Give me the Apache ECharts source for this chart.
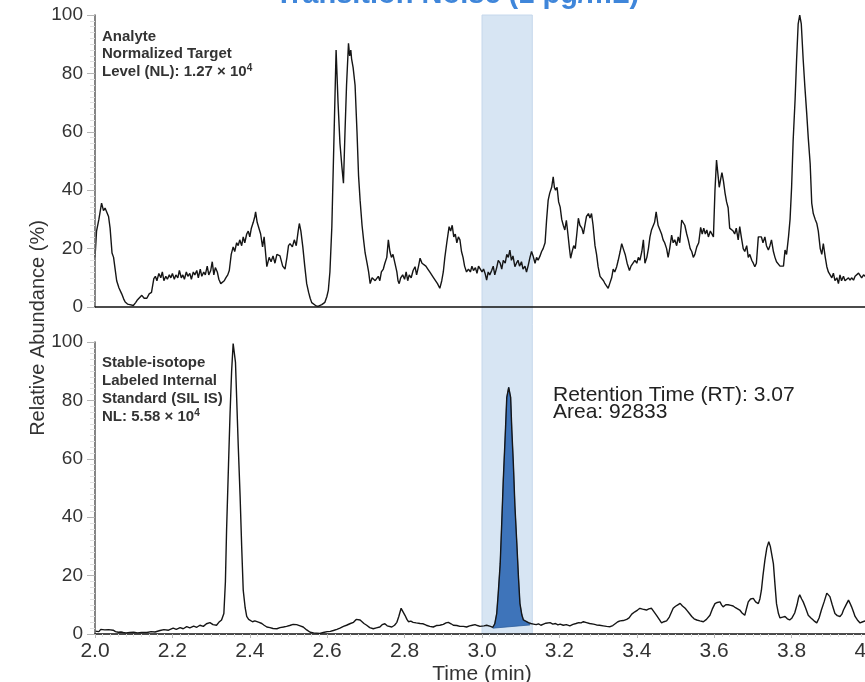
<!DOCTYPE html>
<html>
<head>
<meta charset="utf-8">
<script src="https://cdn.jsdelivr.net/npm/echarts@6/dist/echarts.min.js"></script>
<style>
  html, body { margin: 0; padding: 0; background: #ffffff; }
  #chart { width: 865px; height: 682px; }
</style>
</head>
<body>
<div id="chart"></div>
<script>
// Analyte (target) transition trace: [time (min), relative abundance (%)]
const analyteTrace = [
  [2.000,17],[2.004,26],[2.010,30],[2.017,35.6],[2.022,33],[2.026,33.9],[2.030,34.5],[2.035,31],
  [2.039,27],[2.044,18.5],[2.048,17],[2.052,13],[2.056,9],[2.062,6.5],[2.069,4.5],[2.074,2.8],
  [2.078,1.7],[2.084,1],[2.090,0.8],[2.095,0.3],[2.099,0.5],[2.105,1.5],[2.110,2.5],[2.115,2],
  [2.121,4],[2.127,3],[2.134,3],[2.140,4.5],[2.146,5],[2.152,9.7],[2.156,10.5],[2.160,9],
  [2.165,11.5],[2.170,10],[2.174,12],[2.178,9],[2.183,10.5],[2.187,9.5],[2.192,11],[2.196,10],
  [2.200,11.5],[2.205,9.5],[2.209,11],[2.214,10],[2.218,12.5],[2.223,10],[2.227,11],[2.231,9.5],
  [2.236,12],[2.240,10.5],[2.245,11.5],[2.249,9.5],[2.254,12],[2.258,11],[2.263,12.5],[2.267,10],
  [2.272,13],[2.276,10.5],[2.281,12],[2.285,11],[2.290,14],[2.294,11],[2.299,12.5],[2.303,15.5],
  [2.307,11],[2.311,13.5],[2.316,12],[2.320,9.5],[2.325,8],[2.329,7.5],[2.334,9],[2.338,10],
  [2.343,11],[2.347,12.5],[2.352,18],[2.357,20.6],[2.361,19],[2.366,22],[2.370,21],[2.374,23],
  [2.379,21],[2.383,24],[2.387,22],[2.392,25],[2.396,26],[2.400,24],[2.404,27],[2.409,29],
  [2.413,31],[2.415,32.6],[2.419,29],[2.423,29.5],[2.428,25],[2.433,20.6],[2.437,24],[2.444,13.8],
  [2.450,17],[2.455,15.5],[2.460,17.5],[2.465,15],[2.470,18],[2.478,17.5],[2.485,14],[2.491,13],
  [2.496,17],[2.500,21],[2.504,21.7],[2.510,20.6],[2.515,23],[2.520,21],[2.525,26],[2.528,28.6],
  [2.532,26],[2.537,20.6],[2.542,14],[2.547,8],[2.552,5],[2.556,3],[2.560,1.5],[2.564,1],
  [2.570,0.5],[2.576,0.2],[2.581,0.3],[2.586,0.8],[2.590,1.3],[2.594,1.6],[2.599,3.5],[2.603,5.8],
  [2.607,12],[2.612,27.5],[2.617,55],[2.623,88],[2.628,70],[2.633,56],[2.638,48],[2.642,42.4],
  [2.646,60],[2.650,76],[2.655,90.3],[2.658,86],[2.661,88],[2.663,85],[2.667,82],[2.672,76],
  [2.677,60],[2.681,45],[2.685,36.6],[2.690,28],[2.694,23],[2.698,18.5],[2.703,15],[2.707,12],
  [2.711,8],[2.716,10],[2.720,9.8],[2.724,9],[2.728,8.7],[2.732,10.5],[2.736,9],[2.740,12],
  [2.745,13],[2.749,15],[2.754,17],[2.758,23],[2.762,19],[2.766,17],[2.770,18],[2.775,15],
  [2.780,12],[2.783,9],[2.786,8],[2.790,10],[2.795,11],[2.800,9.5],[2.804,12],[2.808,9],
  [2.812,11],[2.817,10],[2.822,12.5],[2.827,13.8],[2.831,11],[2.836,14],[2.840,16.7],[2.845,15],
  [2.850,15.5],[2.855,14],[2.860,13],[2.865,12],[2.870,11.6],[2.875,10],[2.880,9.5],[2.885,8],
  [2.891,6.4],[2.896,9],[2.900,12],[2.904,17],[2.909,22],[2.915,27.5],[2.919,26],[2.923,28],
  [2.927,24],[2.931,25],[2.935,22],[2.939,24],[2.943,23],[2.947,19],[2.951,17],[2.955,14],
  [2.960,12],[2.965,13],[2.970,12],[2.974,14],[2.978,12.5],[2.983,13.5],[2.987,11.5],[2.991,14],
  [2.995,13.8],[3.000,12],[3.004,13],[3.008,11.5],[3.012,9.2],[3.016,12],[3.020,11],[3.025,12.5],
  [3.029,14],[3.033,11],[3.038,13.5],[3.042,16],[3.047,15],[3.051,13],[3.055,16],[3.060,15],
  [3.064,18],[3.068,17],[3.072,19.5],[3.076,16],[3.080,17.5],[3.085,13.8],[3.089,15],[3.093,16],
  [3.097,14],[3.102,15.5],[3.106,13],[3.111,14],[3.115,12],[3.119,14],[3.124,17],[3.128,19],
  [3.132,17.5],[3.137,15],[3.141,17],[3.145,16],[3.150,17.5],[3.154,19],[3.158,20],[3.163,22],
  [3.167,30],[3.171,36.6],[3.175,39],[3.180,41],[3.184,44.6],[3.187,41],[3.190,40],[3.194,41],
  [3.198,36],[3.202,34.2],[3.206,30],[3.210,28],[3.214,26.4],[3.218,29.7],[3.222,25],[3.226,20],
  [3.229,16.7],[3.233,19],[3.237,21],[3.241,20],[3.245,25],[3.249,30.4],[3.253,28],[3.258,27],
  [3.262,25],[3.266,28],[3.270,31],[3.275,32],[3.279,30.5],[3.283,32],[3.287,28],[3.292,21],
  [3.296,18],[3.300,13.8],[3.305,10.5],[3.310,10.5],[3.314,9],[3.317,8.2],[3.322,8],[3.326,6.4],
  [3.330,8],[3.335,10],[3.339,13],[3.343,12],[3.348,13.8],[3.352,16],[3.357,19],[3.361,21.7],
  [3.365,20],[3.370,18],[3.375,15],[3.381,12.5],[3.385,14],[3.390,13.5],[3.395,16],[3.400,15],
  [3.404,17],[3.408,16],[3.413,19],[3.417,23],[3.421,15],[3.426,17],[3.430,20],[3.434,24],
  [3.438,26.4],[3.442,26],[3.446,29],[3.450,32.6],[3.455,28],[3.459,27.7],[3.464,25],[3.468,23],
  [3.472,22],[3.477,20],[3.481,17],[3.485,20],[3.490,24.6],[3.494,22],[3.498,23],[3.503,21],
  [3.507,24],[3.511,22],[3.516,29.8],[3.520,30.4],[3.524,28],[3.529,25],[3.533,23],[3.538,20],
  [3.542,19],[3.546,17],[3.550,18],[3.555,20.6],[3.560,22],[3.565,27.3],[3.569,25],[3.573,27],
  [3.577,25],[3.581,26.4],[3.585,24],[3.590,26],[3.594,25],[3.598,24],[3.602,40],[3.606,50.3],
  [3.610,45],[3.613,41],[3.617,44],[3.620,46],[3.624,43],[3.628,39],[3.632,36],[3.636,34],
  [3.640,27],[3.645,26.4],[3.649,26],[3.653,25],[3.657,27],[3.662,23],[3.666,27.5],[3.670,24],
  [3.675,20],[3.679,19],[3.684,21],[3.688,17],[3.692,18],[3.697,16],[3.701,15],[3.705,13.8],
  [3.709,15],[3.714,24],[3.718,23.5],[3.722,24],[3.726,22],[3.731,24],[3.735,21],[3.740,19.5],
  [3.744,21],[3.748,23],[3.753,19],[3.757,17],[3.761,15.5],[3.766,15],[3.770,14],[3.775,13.8],
  [3.779,14],[3.783,19.5],[3.787,18],[3.792,24],[3.796,30],[3.800,41],[3.804,57],[3.809,71],
  [3.813,85],[3.817,97],[3.821,100],[3.825,97],[3.830,84.6],[3.834,76],[3.839,66.4],[3.843,58],
  [3.848,49],[3.852,35.6],[3.856,32],[3.861,30],[3.865,28.7],[3.869,26],[3.874,20],[3.878,18],
  [3.882,21.7],[3.887,17],[3.891,13.8],[3.895,12],[3.899,12.5],[3.904,10],[3.908,11.6],[3.912,9],
  [3.917,10],[3.921,8],[3.925,11],[3.929,9],[3.934,10.5],[3.938,9],[3.942,9.5],[3.947,10],
  [3.951,9.2],[3.955,10],[3.960,9.2],[3.964,10.5],[3.968,10],[3.973,11.6],[3.977,12],[3.981,10],
  [3.986,11],[3.990,10.5],[3.995,10],[4.000,10.5]
];

// Stable-isotope labeled internal standard trace: [time (min), relative abundance (%)]
const sisTrace = [
  [2.000,1],[2.005,1.5],[2.010,0.8],[2.015,1.6],[2.020,1],[2.025,1.4],[2.030,0.9],[2.035,1.5],
  [2.040,1.2],[2.047,1.3],[2.053,0.8],[2.060,0.6],[2.067,0.7],[2.073,0.5],[2.080,0.4],[2.090,0.5],
  [2.100,0.6],[2.110,0.4],[2.120,0.5],[2.134,0.5],[2.145,0.8],[2.155,0.7],[2.168,1.2],[2.178,1.5],
  [2.190,1.3],[2.202,2],[2.210,1.6],[2.220,2.2],[2.228,1.8],[2.237,2.5],[2.245,2.1],[2.255,2.7],
  [2.263,2.3],[2.271,3],[2.280,2.6],[2.288,3.5],[2.297,3.9],[2.305,3.2],[2.314,3],[2.320,4],
  [2.327,4.8],[2.333,7],[2.337,18],[2.340,35.6],[2.345,58],[2.349,75.6],[2.353,90],[2.357,99.5],
  [2.360,100],[2.363,93],[2.366,81],[2.370,65],[2.375,47],[2.379,30],[2.383,15],[2.388,9],
  [2.392,6],[2.397,5],[2.401,4.6],[2.407,4.2],[2.413,4.5],[2.418,4.8],[2.424,4],[2.431,3.6],
  [2.437,3],[2.444,2.4],[2.452,2.2],[2.460,1.9],[2.470,1.8],[2.478,2.2],[2.487,2.4],[2.495,2.6],
  [2.503,2.9],[2.512,3.3],[2.521,3.2],[2.530,2.8],[2.538,2.4],[2.547,1.4],[2.556,0.6],[2.565,0.4],
  [2.573,0.3],[2.581,0.2],[2.590,0.5],[2.600,0.8],[2.608,0.9],[2.616,1.2],[2.625,1.6],[2.633,2],
  [2.642,2.6],[2.650,3],[2.660,3.6],[2.668,4],[2.675,5],[2.680,5.4],[2.685,4.8],[2.689,4.4],
  [2.695,3.6],[2.702,3],[2.710,2.2],[2.719,1.8],[2.727,2.1],[2.736,2.4],[2.742,3.2],[2.749,3.5],
  [2.755,2.8],[2.760,2.6],[2.767,2.4],[2.774,3],[2.780,4],[2.785,6],[2.791,8.8],[2.796,7.6],
  [2.801,6.4],[2.806,5],[2.810,4.2],[2.816,4.4],[2.822,4],[2.830,3.8],[2.840,3.6],[2.848,3.5],
  [2.856,3],[2.865,2.6],[2.874,2.4],[2.882,2.9],[2.891,3],[2.900,3.3],[2.907,3.8],[2.913,4],
  [2.920,3.5],[2.926,3],[2.935,2.9],[2.943,2.6],[2.952,2.6],[2.960,2.4],[2.968,2.8],[2.975,3],
  [2.982,3.2],[2.988,2.9],[2.995,2.6],[3.005,2.8],[3.012,3],[3.016,3.1],[3.022,2.6],[3.028,2.3],
  [3.033,3.5],[3.038,7],[3.042,14],[3.047,24],[3.051,38],[3.055,52.7],[3.060,68],[3.064,81],
  [3.069,84.5],[3.074,81],[3.077,70],[3.081,58.4],[3.085,44],[3.090,31],[3.094,20],[3.098,10.5],
  [3.103,6.5],[3.107,4.8],[3.112,4.3],[3.120,3.9],[3.126,3.6],[3.133,3.4],[3.140,3.2],[3.146,3.5],
  [3.152,3],[3.159,3.4],[3.165,3.7],[3.170,3.5],[3.176,3.9],[3.183,3.4],[3.190,3.6],[3.196,3.1],
  [3.202,3.4],[3.210,3],[3.218,3.2],[3.227,2.8],[3.235,3.3],[3.243,3.6],[3.250,3.9],[3.256,3.8],
  [3.262,4.2],[3.270,3.9],[3.278,3.6],[3.288,3.4],[3.296,3.1],[3.304,3],[3.313,2.8],[3.322,2.6],
  [3.331,2.5],[3.338,2.9],[3.345,3.6],[3.351,4.2],[3.357,4.5],[3.365,4.6],[3.374,5],[3.380,5.5],
  [3.387,6.8],[3.395,7.6],[3.402,8.2],[3.408,8.8],[3.415,8.5],[3.425,8.2],[3.431,8.6],[3.438,8.8],
  [3.445,7.5],[3.451,6.4],[3.458,5],[3.464,3.8],[3.470,4.2],[3.477,4.5],[3.484,5.8],[3.490,7.6],
  [3.494,8.8],[3.500,9.5],[3.506,10],[3.512,10.5],[3.518,9.6],[3.525,8.8],[3.530,8],[3.536,7],
  [3.542,6],[3.548,5.2],[3.555,4.8],[3.563,4.5],[3.572,4.2],[3.580,5],[3.589,6.4],[3.595,8.5],
  [3.602,10.4],[3.608,10.8],[3.615,11],[3.619,10],[3.623,9.3],[3.630,10],[3.636,10],[3.643,9.8],
  [3.649,9.6],[3.655,9],[3.660,8.6],[3.666,8.2],[3.672,7.2],[3.679,6.4],[3.684,9],[3.688,11],
  [3.694,12],[3.701,12.2],[3.707,11],[3.714,10.4],[3.718,12],[3.722,15],[3.726,20],[3.731,25.3],
  [3.736,29.5],[3.741,31.6],[3.745,30],[3.749,27],[3.753,24],[3.757,17],[3.761,10.4],[3.766,7],
  [3.770,5.5],[3.777,5.8],[3.783,6],[3.789,5.2],[3.795,4.8],[3.801,5.5],[3.808,7.2],[3.814,10],
  [3.818,12.5],[3.821,13.4],[3.826,12],[3.830,11],[3.836,9],[3.843,6.4],[3.850,5.5],[3.858,4.5],
  [3.865,3.8],[3.871,5.5],[3.877,8.2],[3.884,11],[3.891,14],[3.895,13.8],[3.899,12.8],[3.905,10],
  [3.912,7],[3.918,6.3],[3.925,6],[3.930,6.8],[3.934,8.2],[3.940,9.8],[3.947,11.6],[3.951,10.5],
  [3.955,9.3],[3.960,7.5],[3.964,6],[3.970,4.8],[3.977,3.8],[3.984,4.2],[3.990,4.5],[3.995,3.9],
  [4.000,4.2]
];

// Shaded retention window (min)
const retentionWindow = [3.0, 3.13];
// Integration baseline of the SIL IS peak: [time, abundance] at start and end
const peakBaseline = [[3.028, 2.0], [3.124, 3.1]];

// Axis ranges and tick steps
const timeRange = [2.0, 4.0];
const timeStep = 0.2;
const abundanceRange = [0, 100];
const abundanceStep = 20;

// Annotation text
const titleText = 'Transition Noise (1 pg/mL)';
const analyteNote = 'Analyte\nNormalized Target\nLevel (NL): 1.27 × 10{sup|4}';
const sisNote = 'Stable-isotope\nLabeled Internal\nStandard (SIL IS)\nNL: 5.58 × 10{sup|4}';
const peakNote = 'Retention Time (RT): 3.07\nArea: 92833';

const chart = echarts.init(document.getElementById('chart'), null, { renderer: 'canvas' });

const FONT = 'Liberation Sans, Arial, Helvetica, sans-serif';
const NARROW = 'Liberation Sans Narrow, Arial Narrow, Liberation Sans, Arial, sans-serif';

function timeAxis(gridIndex, withLabels) {
  return {
    gridIndex: gridIndex,
    type: 'value',
    min: timeRange[0],
    max: timeRange[1],
    interval: timeStep,
    z: 6,
    axisLine: { show: true, onZero: false, lineStyle: { color: '#111', width: 1.6 } },
    axisTick: { show: withLabels, length: 4, lineStyle: { color: '#bbb', width: 1 } },
    minorTick: { show: withLabels, splitNumber: 10, length: 3, lineStyle: { color: '#ddd', width: 1 } },
    axisLabel: {
      show: withLabels,
      formatter: function (v) { return v.toFixed(1); },
      fontSize: 21,
      fontFamily: NARROW,
      color: '#333',
      margin: 7
    },
    splitLine: { show: false }
  };
}

function abundanceAxis(gridIndex) {
  return {
    gridIndex: gridIndex,
    type: 'value',
    min: abundanceRange[0],
    max: abundanceRange[1],
    interval: abundanceStep,
    z: 6,
    axisLine: { show: true, lineStyle: { color: '#666', width: 1.6 } },
    axisTick: { show: true, length: 8, lineStyle: { color: '#b5b5b5', width: 1 } },
    minorTick: { show: true, splitNumber: 10, length: 5, lineStyle: { color: '#e0e0e0', width: 1 } },
    axisLabel: { fontSize: 19, fontFamily: FONT, color: '#333', margin: 12 },
    splitLine: { show: false }
  };
}

const option = {
  backgroundColor: '#ffffff',
  animation: false,
  grid: [
    { left: 95, top: 15, width: 774, height: 292, outerBoundsMode: 'none' },
    { left: 95, top: 342, width: 774, height: 292, outerBoundsMode: 'none' },
    { left: 95, top: 15, width: 774, height: 619, outerBoundsMode: 'none' }
  ],
  xAxis: [
    timeAxis(0, false),
    timeAxis(1, true),
    { gridIndex: 2, type: 'value', min: timeRange[0], max: timeRange[1], show: false }
  ],
  yAxis: [
    abundanceAxis(0),
    abundanceAxis(1),
    { gridIndex: 2, type: 'value', min: 0, max: 1, show: false }
  ],
  series: [
    {
      // retention window spanning both panels
      type: 'custom',
      xAxisIndex: 2,
      yAxisIndex: 2,
      z: 1,
      silent: true,
      data: [retentionWindow],
      encode: { x: [0, 1] },
      renderItem: function (params, api) {
        const x0 = api.coord([api.value(0), 0])[0];
        const x1 = api.coord([api.value(1), 0])[0];
        const cs = params.coordSys;
        return {
          type: 'rect',
          shape: { x: x0, y: cs.y, width: x1 - x0, height: cs.height },
          style: { fill: '#d7e5f3', stroke: '#c6d8ec', lineWidth: 1 }
        };
      }
    },
    {
      type: 'line',
      name: 'Analyte',
      xAxisIndex: 0,
      yAxisIndex: 0,
      data: analyteTrace,
      showSymbol: false,
      z: 4,
      lineStyle: { color: '#151515', width: 1.4 }
    },
    {
      // integrated SIL IS peak area
      type: 'custom',
      xAxisIndex: 1,
      yAxisIndex: 1,
      z: 3,
      silent: true,
      data: [[peakBaseline[0][0], peakBaseline[1][0]]],
      encode: { x: [0, 1] },
      renderItem: function (params, api) {
        const t0 = peakBaseline[0][0];
        const t1 = peakBaseline[1][0];
        const pts = [api.coord(peakBaseline[0])];
        sisTrace.forEach(function (p) {
          if (p[0] > t0 && p[0] < t1) pts.push(api.coord(p));
        });
        pts.push(api.coord(peakBaseline[1]));
        return {
          type: 'polygon',
          shape: { points: pts },
          style: { fill: '#3e74ba', stroke: '#2f5f9e', lineWidth: 0.8 }
        };
      }
    },
    {
      type: 'line',
      name: 'SIL IS',
      xAxisIndex: 1,
      yAxisIndex: 1,
      data: sisTrace,
      showSymbol: false,
      z: 4,
      lineStyle: { color: '#151515', width: 1.4 }
    }
  ],
  graphic: [
    {
      type: 'text',
      x: 457,
      y: 9,
      style: {
        text: titleText,
        fill: '#3f86da',
        font: 'bold 29px ' + FONT,
        align: 'center',
        verticalAlign: 'bottom'
      }
    },
    {
      type: 'text',
      x: 38,
      y: 328,
      rotation: Math.PI / 2,
      style: {
        text: 'Relative Abundance (%)',
        fill: '#333',
        font: '20px ' + FONT,
        align: 'center',
        verticalAlign: 'middle'
      }
    },
    {
      type: 'text',
      x: 482,
      y: 674,
      style: {
        text: 'Time (min)',
        fill: '#333',
        font: '21px ' + NARROW,
        align: 'center',
        verticalAlign: 'middle'
      }
    },
    {
      type: 'text',
      x: 102,
      y: 28,
      style: {
        text: analyteNote,
        fill: '#333',
        font: 'bold 15px ' + FONT,
        lineHeight: 17.5,
        rich: {
          sup: { fontSize: 10, fontWeight: 'bold', fontFamily: FONT, lineHeight: 11, verticalAlign: 'top', fill: '#333' }
        }
      }
    },
    {
      type: 'text',
      x: 102,
      y: 354,
      style: {
        text: sisNote,
        fill: '#333',
        font: 'bold 15px ' + FONT,
        lineHeight: 18,
        rich: {
          sup: { fontSize: 10, fontWeight: 'bold', fontFamily: FONT, lineHeight: 11, verticalAlign: 'top', fill: '#333' }
        }
      }
    },
    {
      type: 'text',
      x: 553,
      y: 387,
      style: {
        text: peakNote,
        fill: '#222',
        font: '21px ' + FONT,
        lineHeight: 17
      }
    }
  ]
};

chart.setOption(option);
</script>
</body>
</html>
